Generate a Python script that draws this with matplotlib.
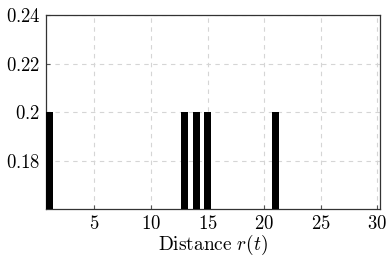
import matplotlib
matplotlib.use("Agg")
import matplotlib.pyplot as plt

plt.rcParams['mathtext.fontset'] = 'cm'
plt.rcParams['font.family'] = ['DejaVu Serif']

distances = [1, 13, 14, 15, 21]
values = [0.2, 0.2, 0.2, 0.2, 0.2]
xticks = [5, 10, 15, 20, 25, 30]
yticks = [0.18, 0.2, 0.22, 0.24]
ytick_labels = ["0.18", "0.2", "0.22", "0.24"]

fig = plt.figure(figsize=(3.91, 2.68), dpi=100)
ax = fig.add_axes([0.1176, 0.2201, 0.8543, 0.7239])
ax.bar(distances, values, width=0.6, color='black', zorder=3)
ax.set_xlim(0.72, 30.25)
ax.set_ylim(0.16, 0.24)
ax.set_xticks(xticks)
ax.set_xticklabels([f"${t}$" for t in xticks], fontsize=13.5)
ax.set_yticks(yticks)
ax.set_yticklabels([f"${t}$" for t in ytick_labels], fontsize=13.5)
ax.grid(True, linestyle=(0, (4, 4)), color='#d5d5d5', linewidth=0.8, zorder=0)
ax.tick_params(direction='in', length=3, color='#555555', pad=4)
for s in ax.spines.values():
    s.set_color('#333333')
    s.set_linewidth(0.9)
ax.set_xlabel(r"$\mathrm{Distance}\ r(t)$", fontsize=14, labelpad=0)
fig.savefig("out.png", dpi=100)
